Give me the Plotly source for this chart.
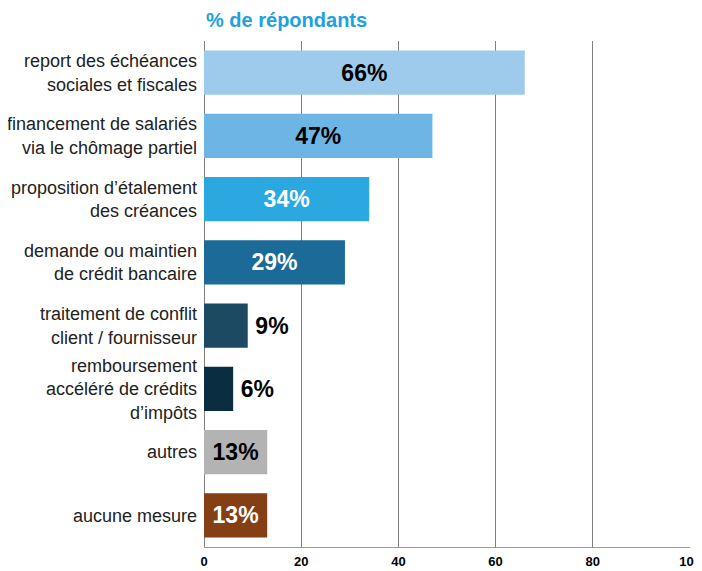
import plotly.graph_objects as go

categories = [
    "report des échéances<br>sociales et fiscales",
    "financement de salariés<br>via le chômage partiel",
    "proposition d’étalement<br>des créances",
    "demande ou maintien<br>de crédit bancaire",
    "traitement de conflit<br>client / fournisseur",
    "remboursement<br>accéléré de crédits<br>d’impôts",
    "autres",
    "aucune mesure",
]
values = [66, 47, 34, 29, 9, 6, 13, 13]
labels = ["66%", "47%", "34%", "29%", "9%", "6%", "13%", "13%"]
colors = ["#9ECAEC", "#6DB5E4", "#2CA8E1", "#1B6A97", "#1C4A62", "#0B2D41", "#B3B3B3", "#843F15"]
text_colors = ["black", "black", "white", "white", "black", "black", "black", "white"]
text_pos = ["inside", "inside", "inside", "inside", "outside", "outside", "inside", "inside"]

font = "Liberation Sans, Arial, sans-serif"
shown = ["\u2009" + t if p == "outside" else t for t, p in zip(labels, text_pos)]

fig = go.Figure()
fig.add_trace(go.Bar(
    y=categories, x=values, orientation="h",
    marker=dict(color=colors, line=dict(width=0)),
    text=shown, textposition=text_pos,
    insidetextanchor="middle",
    textfont=dict(family=font, size=23, color=text_colors, weight="bold"),
    outsidetextfont=dict(family=font, size=23, color=text_colors, weight="bold"),
    insidetextfont=dict(family=font, size=23, color=text_colors, weight="bold"),
    cliponaxis=False,
))

# page body adds an 8px offset, so margins are trimmed to compensate
fig.update_layout(
    width=702, height=571,
    margin=dict(l=196, r=20, t=33, b=32),
    plot_bgcolor="white", paper_bgcolor="white",
    bargap=0.3, showlegend=False,
    annotations=[dict(
        text="<b>% de répondants</b>", x=0, xref="paper", xanchor="left",
        y=1, yref="paper", yanchor="bottom", yshift=8, showarrow=False,
        font=dict(family=font, size=20, color="#1DA1E0"),
    )],
)
fig.update_xaxes(
    range=[0, 100], tickvals=[0, 20, 40, 60, 80, 100],
    showgrid=True, gridcolor="#7F7F7F", gridwidth=1,
    zeroline=True, zerolinecolor="#7F7F7F", zerolinewidth=1,
    showline=True, linecolor="#9A9A9A", linewidth=1,
    tickfont=dict(family=font, size=13, color="black", weight="bold"),
    ticklabelstandoff=2, automargin=False, fixedrange=True,
)
fig.update_yaxes(
    autorange="reversed", showgrid=False, zeroline=False,
    tickfont=dict(family=font, size=18, color="#222222"),
    ticks="", ticklabelstandoff=6, automargin=False,
)

fig.write_html("out.html")
